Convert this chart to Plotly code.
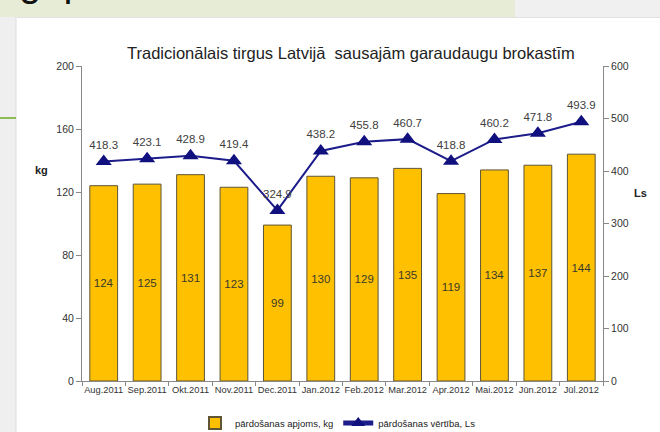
import plotly.graph_objects as go

months = ["Aug.2011", "Sep.2011", "Okt.2011", "Nov.2011", "Dec.2011", "Jan.2012",
          "Feb.2012", "Mar.2012", "Apr.2012", "Mai.2012", "Jūn.2012", "Jūl.2012"]
volume_kg = [124, 125, 131, 123, 99, 130, 129, 135, 119, 134, 137, 144]
value_ls = [418.3, 423.1, 428.9, 419.4, 324.9, 438.2, 455.8, 460.7, 418.8, 460.2, 471.8, 493.9]

FONT = "Liberation Sans, Arial, sans-serif"

fig = go.Figure()
fig.add_trace(go.Bar(
    x=months, y=volume_kg, name="pārdošanas apjoms, kg",
    marker=dict(color="#FFC000", line=dict(color="#5f5535", width=1)),
    text=[str(v) for v in volume_kg], textposition="inside", insidetextanchor="middle",
    textfont=dict(size=11.5, color="#3a3a2a", family=FONT),
    yaxis="y", width=0.64,
))
fig.add_trace(go.Scatter(
    x=months, y=value_ls, name="pārdošanas vērtība, Ls", yaxis="y2",
    mode="lines+markers+text",
    line=dict(color="#1c1c8a", width=2),
    marker=dict(symbol="triangle-up", size=14, color="#10107e"),
    text=[f"{v:.1f}" for v in value_ls], textposition="top center",
    textfont=dict(size=11.5, color="#404040", family=FONT),
))

L, R, T, B = 82, 57, 66, 51
W, H = 660, 432
pw, ph = W - L - R, H - T - B
def px(x): return (x - L) / pw
def py(y): return (H - B - y) / ph

shapes = [
    dict(type="rect", xref="paper", yref="paper", x0=px(0), x1=px(W), y0=py(17), y1=py(0),
         fillcolor="#f0f0f0", line=dict(width=0), layer="below"),
    dict(type="rect", xref="paper", yref="paper", x0=px(0), x1=px(515), y0=py(17), y1=py(0),
         fillcolor="#e6ecd6", line=dict(width=0), layer="below"),
    dict(type="rect", xref="paper", yref="paper", x0=px(0), x1=px(16), y0=py(H), y1=py(17),
         fillcolor="#efefef", line=dict(width=0), layer="below"),
    dict(type="line", xref="paper", yref="paper", x0=px(16), x1=px(16), y0=py(H), y1=py(17),
         line=dict(color="#dddddd", width=1), layer="below"),
    dict(type="line", xref="paper", yref="paper", x0=px(17), x1=px(W), y0=py(17.5), y1=py(17.5),
         line=dict(color="#e2e2e2", width=1), layer="below"),
    dict(type="line", xref="paper", yref="paper", x0=px(0), x1=px(16), y0=py(118), y1=py(118),
         line=dict(color="#8dbb55", width=2), layer="below"),
]

fig.update_layout(
    width=W, height=H,
    margin=dict(l=L, r=R, t=T, b=B, autoexpand=False),
    paper_bgcolor="white", plot_bgcolor="white",
    font=dict(family=FONT, color="#333333", size=10),
    bargap=0.36,
    showlegend=True,
    legend=dict(orientation="h", x=px(338), xanchor="center", y=py(423), yanchor="middle",
                font=dict(size=9.5, color="#222"), traceorder="normal",
                itemsizing="constant", itemwidth=30),
    xaxis=dict(type="category", range=[-0.5, 11.5], autorange=False,
               tickson="boundaries", ticks="outside", ticklen=4,
               tickcolor="#888", showline=True, linecolor="#888", linewidth=1,
               tickfont=dict(size=9.3, color="#333"), tickangle=0, showgrid=False),
    yaxis=dict(range=[0, 200], dtick=40, ticks="outside", ticklen=5, tickcolor="#888",
               showline=True, linecolor="#888", linewidth=1, showgrid=False, zeroline=False,
               tickfont=dict(size=10.5, color="#333")),
    yaxis2=dict(range=[0, 600], dtick=100, overlaying="y", side="right", ticks="outside",
                ticklen=5, tickcolor="#888", showline=True, linecolor="#888", linewidth=1,
                showgrid=False, zeroline=False, tickfont=dict(size=10.5, color="#333")),
    shapes=shapes,
    annotations=[
        dict(text="Tradicionālais tirgus Latvijā  sausajām garaudaugu brokastīm",
             xref="paper", yref="paper", x=px(351), y=py(53), xanchor="center", yanchor="middle",
             showarrow=False, font=dict(size=16.5, color="#222", family=FONT)),
        dict(text="<b>kg</b>", xref="paper", yref="paper", x=px(41), y=py(170),
             xanchor="center", yanchor="middle", showarrow=False,
             font=dict(size=11, color="#222", family=FONT)),
        dict(text="<b>Ls</b>", xref="paper", yref="paper", x=px(640), y=py(193),
             xanchor="center", yanchor="middle", showarrow=False,
             font=dict(size=11, color="#222", family=FONT)),
        dict(text="g  p", xref="paper", yref="paper", x=px(17), y=py(6),
             xanchor="left", yanchor="bottom", showarrow=False,
             font=dict(size=40, color="#111", family=FONT)),
    ],
)

fig.write_html("out.html", config={"displayModeBar": False},
               post_script="document.body.style.margin='0';")
